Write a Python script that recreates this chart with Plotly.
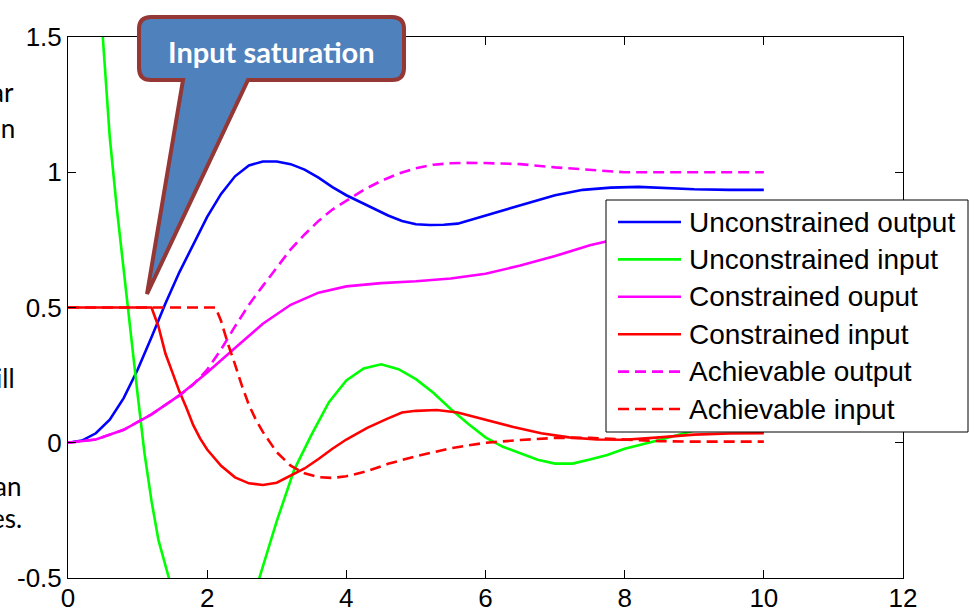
import plotly.graph_objects as go

# ---------------- data ----------------
t_unc_out = [0, 0.2, 0.4, 0.6, 0.8, 1.0, 1.2, 1.4, 1.6, 1.8, 2.0, 2.2, 2.4, 2.6, 2.8, 3.0,
             3.2, 3.4, 3.6, 3.8, 4.0, 4.2, 4.4, 4.6, 4.8, 5.0, 5.2, 5.4, 5.6, 5.8, 6.0, 6.2,
             6.6, 7.0, 7.4, 7.8, 8.2, 8.6, 9.0, 9.5, 10]
y_unc_out = [0, 0.008, 0.035, 0.085, 0.165, 0.27, 0.39, 0.515, 0.63, 0.735, 0.835, 0.92,
             0.985, 1.025, 1.04, 1.04, 1.03, 1.01, 0.98, 0.945, 0.915, 0.89, 0.865, 0.84,
             0.82, 0.808, 0.805, 0.806, 0.81, 0.825, 0.84, 0.855, 0.885, 0.915, 0.935,
             0.943, 0.946, 0.942, 0.937, 0.935, 0.935]

t_unc_in = [0, 0.25, 0.5, 0.6, 0.7, 0.8, 0.9, 1.0, 1.1, 1.2, 1.3, 1.45, 1.7, 2.0, 2.3,
            2.55, 2.75, 3.0, 3.25, 3.5, 3.75, 4.0, 4.25, 4.5, 4.75, 5.0, 5.25, 5.5, 5.75,
            6.0, 6.25, 6.5, 6.75, 7.0, 7.25, 7.5, 7.75, 8.0, 8.5, 9.0, 9.5, 10]
y_unc_in = [2.9, 2.2, 1.5, 1.13, 0.87, 0.64, 0.40, 0.18, -0.04, -0.215, -0.36, -0.5, -0.8,
            -1.0, -0.95, -0.75, -0.5, -0.29, -0.1, 0.03, 0.15, 0.23, 0.275, 0.29, 0.272,
            0.235, 0.185, 0.125, 0.07, 0.02, -0.015, -0.04, -0.063, -0.077, -0.077,
            -0.062, -0.045, -0.022, 0.01, 0.045, 0.05, 0.04]

t_con_out = [0, 0.4, 0.8, 1.2, 1.6, 2.0, 2.4, 2.8, 3.2, 3.6, 4.0, 4.5, 5.0, 5.5, 6.0, 6.5,
             7.0, 7.5, 8.0, 8.5, 9.0, 9.5, 10]
y_con_out = [0, 0.012, 0.048, 0.105, 0.175, 0.26, 0.35, 0.44, 0.51, 0.555, 0.578, 0.59,
             0.597, 0.607, 0.625, 0.655, 0.69, 0.73, 0.76, 0.79, 0.81, 0.83, 0.85]

t_con_in = [0, 1.2, 1.3, 1.4, 1.5, 1.6, 1.7, 1.8, 1.9, 2.0, 2.2, 2.4, 2.6, 2.8, 3.0, 3.2,
            3.4, 3.6, 3.8, 4.0, 4.3, 4.6, 4.8, 5.0, 5.3, 5.6, 6.0, 6.4, 6.8, 7.2, 7.6,
            8.0, 8.5, 9.0, 9.5, 10]
y_con_in = [0.5, 0.5, 0.43, 0.33, 0.26, 0.19, 0.13, 0.065, 0.015, -0.025, -0.085, -0.128,
            -0.15, -0.156, -0.148, -0.122, -0.095, -0.06, -0.022, 0.012, 0.055, 0.09,
            0.112, 0.118, 0.121, 0.112, 0.085, 0.058, 0.035, 0.02, 0.012, 0.011, 0.02,
            0.03, 0.034, 0.035]

t_ach_out = [0, 0.4, 0.8, 1.2, 1.6, 1.8, 2.0, 2.2, 2.4, 2.6, 2.8, 3.0, 3.2, 3.4, 3.6, 3.8,
             4.0, 4.25, 4.5, 4.75, 5.0, 5.25, 5.5, 5.75, 6.0, 6.5, 7.0, 7.5, 8.0, 9.0, 10]
y_ach_out = [0, 0.012, 0.048, 0.105, 0.175, 0.215, 0.27, 0.345, 0.43, 0.51, 0.58, 0.648,
             0.715, 0.77, 0.82, 0.862, 0.895, 0.935, 0.968, 0.995, 1.015, 1.028, 1.033,
             1.035, 1.034, 1.03, 1.018, 1.01, 1.0, 1.0, 1.0]

t_ach_in = [0, 2.12, 2.2, 2.3, 2.4, 2.5, 2.6, 2.7, 2.8, 3.0, 3.2, 3.4, 3.6, 3.8, 4.0, 4.3,
            4.6, 5.0, 5.5, 6.0, 6.5, 7.0, 7.5, 8.0, 8.5, 9.0, 10]
y_ach_in = [0.5, 0.5, 0.45, 0.365, 0.29, 0.21, 0.14, 0.085, 0.04, -0.035, -0.085, -0.113,
            -0.127, -0.13, -0.124, -0.105, -0.078, -0.05, -0.02, 0.0, 0.01, 0.018, 0.018,
            0.012, 0.006, 0.004, 0.004]

series_names = ["Unconstrained output", "Unconstrained input", "Constrained ouput",
                "Constrained input", "Achievable output", "Achievable input"]
x_ticks = [0, 2, 4, 6, 8, 10, 12]
y_ticks = [-0.5, 0, 0.5, 1, 1.5]
y_tick_text = ["-0.5", "0", "0.5", "1", "1.5"]
callout_text = "Input saturation"
side_text = ["ar", "on", "ill", "an", "es."]

# ---------------- figure ----------------
W, H = 976, 608
ML, MR, MT, MB = 68, 73, 37, 30
PW, PH = W - ML - MR, H - MT - MB


def px(x):
    return (x - ML) / PW


def py(y):
    return (H - MB - y) / PH


DASH = "11px,6px"
styles = [
    ("#0000FF", "solid"), ("#00FF00", "solid"), ("#FF00FF", "solid"),
    ("#FF0000", "solid"), ("#FF00FF", DASH), ("#FF0000", DASH),
]
data = [(t_unc_out, y_unc_out), (t_unc_in, y_unc_in), (t_con_out, y_con_out),
        (t_con_in, y_con_in), (t_ach_out, y_ach_out), (t_ach_in, y_ach_in)]

fig = go.Figure()
for (tx, ty), name, (col, dash) in zip(data, series_names, styles):
    fig.add_trace(go.Scatter(x=tx, y=ty, mode="lines", name=name, showlegend=False,
                             line=dict(color=col, width=2.6, dash=dash)))

axis_common = dict(showgrid=False, zeroline=False, showline=True, linecolor="black",
                   linewidth=1, mirror="ticks", ticks="inside", ticklen=8,
                   tickcolor="black", tickwidth=1, automargin=False,
                   tickfont=dict(family="Liberation Sans, Arial", size=26, color="black"))

fig.update_xaxes(range=[0, 12], tickvals=x_ticks, ticktext=[str(v) for v in x_ticks],
                 ticklabelstandoff=-3, **axis_common)
fig.update_yaxes(range=[-0.5, 1.5], tickvals=y_ticks, ticktext=y_tick_text, **axis_common)

# ---- legend box (drawn to match the MATLAB legend look) ----
LG_L, LG_T, LG_R, LG_B = 606, 200, 968, 432
fig.add_shape(type="rect", xref="paper", yref="paper",
              x0=px(LG_L), x1=px(LG_R), y0=py(LG_B), y1=py(LG_T),
              fillcolor="white", line=dict(color="black", width=1), layer="above")
for i, (name, (col, dash)) in enumerate(zip(series_names, styles)):
    yy = 222 + 37.4 * i
    fig.add_shape(type="line", xref="paper", yref="paper",
                  x0=px(618), x1=px(681), y0=py(yy), y1=py(yy),
                  line=dict(color=col, width=2.6, dash=dash), layer="above")
    fig.add_annotation(x=px(687), y=py(yy), xref="paper", yref="paper", text=name,
                       showarrow=False, xanchor="left", yanchor="middle",
                       font=dict(family="Liberation Sans, Arial", size=28, color="black"))

# ---- callout shape (pixel geometry converted to paper coordinates) ----
L, R, T, B, r = 139, 404, 17, 80, 12
pts = [
    f"M{px(L + r)},{py(T)}",
    f"L{px(R - r)},{py(T)}",
    f"Q{px(R)},{py(T)} {px(R)},{py(T + r)}",
    f"L{px(R)},{py(B - r)}",
    f"Q{px(R)},{py(B)} {px(R - r)},{py(B)}",
    f"L{px(248)},{py(B)}",
    f"L{px(147)},{py(294)}",
    f"L{px(183)},{py(B)}",
    f"L{px(L + r)},{py(B)}",
    f"Q{px(L)},{py(B)} {px(L)},{py(B - r)}",
    f"L{px(L)},{py(T + r)}",
    f"Q{px(L)},{py(T)} {px(L + r)},{py(T)}",
    "Z",
]
fig.add_shape(type="path", path=" ".join(pts), xref="paper", yref="paper",
              fillcolor="#4F81BD", line=dict(color="#953735", width=4), layer="above")

fig.add_annotation(x=px(271), y=py(51), xref="paper", yref="paper", text=callout_text,
                   showarrow=False, xanchor="center", yanchor="middle",
                   font=dict(family="Lato", size=29, color="white", weight="bold"))

side_pos = [(16, 92), (17, 128), (17, 378), (23, 486), (24, 518)]
for txt, (sx, sy) in zip(side_text, side_pos):
    fig.add_annotation(x=px(sx), y=py(sy), xref="paper", yref="paper", text=txt,
                       showarrow=False, xanchor="right", yanchor="middle",
                       font=dict(family="Lato", size=26, color="black"))

fig.update_layout(
    width=W, height=H,
    margin=dict(l=ML, r=MR, t=MT, b=MB, pad=0, autoexpand=False),
    paper_bgcolor="white", plot_bgcolor="white",
    showlegend=False,
)

fig.write_html("out.html", config={"displayModeBar": False},
               post_script="document.body.style.margin='0';document.body.style.overflow='hidden';")
